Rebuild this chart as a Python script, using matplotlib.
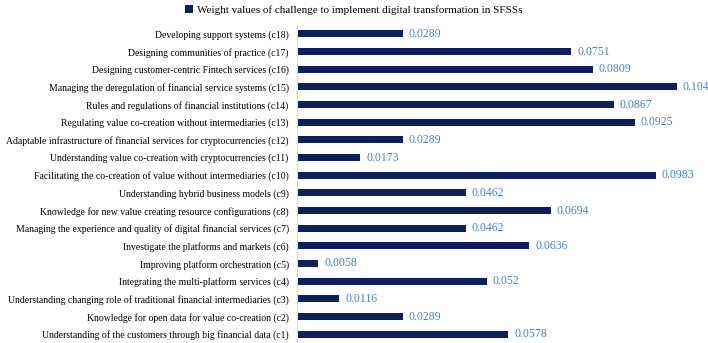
import matplotlib
matplotlib.use('Agg')
import matplotlib.pyplot as plt

# challenges, listed top to bottom as in the chart
labels = [
    'Developing support systems (c18)',
    'Designing communities of practice (c17)',
    'Designing customer-centric Fintech services (c16)',
    'Managing the deregulation of financial service systems (c15)',
    'Rules and regulations of financial institutions (c14)',
    'Regulating value co-creation without intermediaries (c13)',
    'Adaptable infrastructure of financial services for cryptocurrencies (c12)',
    'Understanding value co-creation with cryptocurrencies (c11)',
    'Facilitating the co-creation of value without intermediaries (c10)',
    'Understanding hybrid business models (c9)',
    'Knowledge for new value creating resource configurations (c8)',
    'Managing the experience and quality of digital financial services (c7)',
    'Investigate the platforms and markets (c6)',
    'Improving platform orchestration (c5)',
    'Integrating the multi-platform services (c4)',
    'Understanding changing role of traditional financial intermediaries (c3)',
    'Knowledge for open data for value co-creation (c2)',
    'Understanding of the customers through big financial data (c1)',
]
weights = [0.0289, 0.0751, 0.0809, 0.104, 0.0867, 0.0925, 0.0289, 0.0173, 0.0983,
           0.0462, 0.0694, 0.0462, 0.0636, 0.0058, 0.052, 0.0116, 0.0289, 0.0578]
weight_text = ['0.0289', '0.0751', '0.0809', '0.104', '0.0867', '0.0925', '0.0289', '0.0173', '0.0983',
               '0.0462', '0.0694', '0.0462', '0.0636', '0.0058', '0.052', '0.0116', '0.0289', '0.0578']

plt.rcParams['font.family'] = ['Liberation Serif', 'DejaVu Serif']

fig = plt.figure(figsize=(7.08, 3.43), dpi=100)
ax = fig.add_axes([297 / 708, 0.0, 411 / 708, 318 / 343])

n = len(labels)
ypos = list(range(n - 1, -1, -1))
bars = ax.barh(ypos, weights, height=0.4, color='#0c1f5c',
               label='Weight values of challenge to implement digital transformation in SFSSs')

for y, w, t in zip(ypos, weights, weight_text):
    ax.text(w + 0.0016, y, t, va='center', ha='left', fontsize=8.5,
            color='#4a82c3')

ax.set_yticks(ypos)
ax.set_yticklabels(labels, fontsize=7.05)
ax.set_xlim(0, 0.1125)
ax.set_ylim(-0.5, n - 0.5)
ax.set_xticks([])
ax.tick_params(axis='y', length=0, pad=6)
for side in ['top', 'right', 'bottom']:
    ax.spines[side].set_visible(False)
ax.spines['left'].set_color('#d9d9d9')

fig.legend(handles=[bars], loc='upper center', bbox_to_anchor=(0.5, 1.015), frameon=False,
           fontsize=8, handlelength=0.7, handleheight=0.7, handletextpad=0.4)

fig.savefig('out.png', dpi=100)
